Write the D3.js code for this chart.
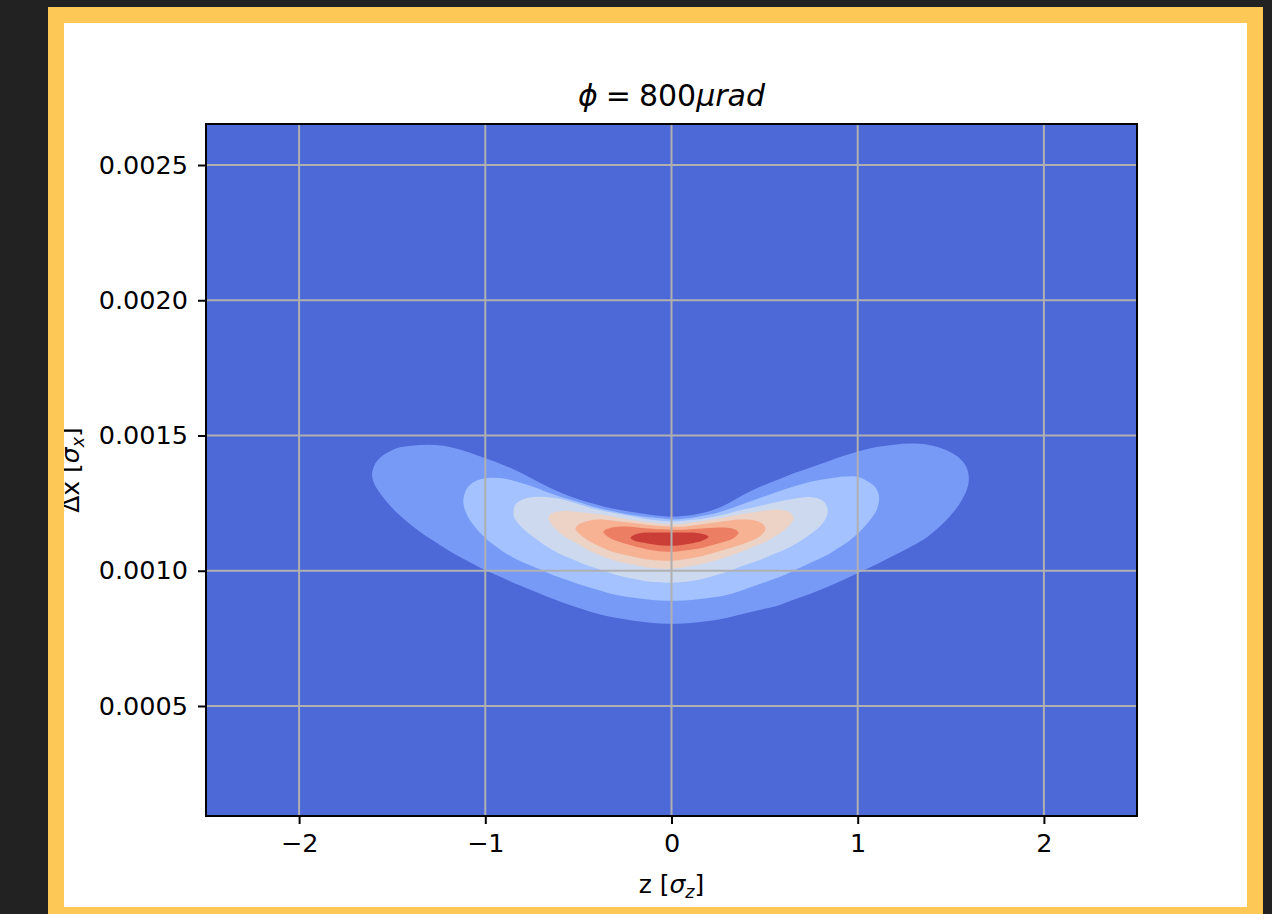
<!DOCTYPE html>
<html>
<head>
<meta charset="utf-8">
<script src="https://cdn.jsdelivr.net/npm/d3@7"></script>
<style>
  html, body { margin: 0; padding: 0; background: #222; }
  svg { display: block; }
  text { font-family: "DejaVu Sans", sans-serif; fill: #000; }
</style>
</head>
<body>
<svg id="fig" width="1272" height="914"></svg>
<script>
// ---- axis ranges and ticks ----
const zDomain = [-2.5, 2.5];
const dxDomain = [0.0000933, 0.0026516];
const zTicks = [-2, -1, 0, 1, 2];
const dxTicks = [0.0005, 0.0010, 0.0015, 0.0020, 0.0025];

// coolwarm colours of the filled bands, lowest level first
const bandColors = ["#4d68d7", "#779af7", "#a3c2ff", "#ccd9ee", "#ecd3c5", "#f7b193", "#ec7f63", "#cb3e38"];

// contour boundaries [z, Δx] of each filled level, outermost first
const level1 = [[-1.608,0.001351],[-1.597,0.001388],[-1.570,0.001414],[-1.527,0.001436],[-1.468,0.001455],[-1.392,0.001462],[-1.312,0.001466],[-1.226,0.001462],[-1.134,0.001447],[-1.038,0.001425],[-0.946,0.001403],[-0.855,0.001377],[-0.758,0.001344],[-0.667,0.001311],[-0.581,0.001285],[-0.489,0.001262],[-0.398,0.001244],[-0.312,0.001229],[-0.220,0.001218],[-0.113,0.001207],[0,0.001200],[0.118,0.001207],[0.210,0.001222],[0.301,0.001248],[0.387,0.001281],[0.478,0.001311],[0.570,0.001336],[0.656,0.001360],[0.747,0.001382],[0.839,0.001404],[0.925,0.001425],[1.016,0.001444],[1.108,0.001458],[1.194,0.001466],[1.285,0.001470],[1.376,0.001466],[1.457,0.001451],[1.522,0.001429],[1.570,0.001399],[1.591,0.001370],[1.597,0.001336],[1.586,0.001299],[1.554,0.001255],[1.511,0.001214],[1.462,0.001177],[1.376,0.001126],[1.285,0.001089],[1.194,0.001056],[1.108,0.001026],[1.016,0.000996],[0.925,0.000967],[0.839,0.000941],[0.747,0.000915],[0.656,0.000893],[0.570,0.000871],[0.478,0.000856],[0.387,0.000841],[0.301,0.000826],[0.210,0.000815],[0.118,0.000808],[0,0.000804],[-0.113,0.000808],[-0.204,0.000815],[-0.301,0.000826],[-0.398,0.000841],[-0.489,0.000860],[-0.581,0.000882],[-0.667,0.000904],[-0.758,0.000930],[-0.849,0.000956],[-0.935,0.000982],[-1.027,0.001011],[-1.118,0.001044],[-1.204,0.001078],[-1.296,0.001118],[-1.387,0.001163],[-1.457,0.001203],[-1.511,0.001240],[-1.559,0.001281],[-1.591,0.001314]];
const level2 = [[-1.118,0.001251],[-1.113,0.001281],[-1.091,0.001311],[-1.059,0.001329],[-1.016,0.001340],[-0.957,0.001344],[-0.892,0.001340],[-0.828,0.001329],[-0.758,0.001314],[-0.688,0.001296],[-0.597,0.001274],[-0.505,0.001255],[-0.419,0.001237],[-0.328,0.001222],[-0.237,0.001209],[-0.140,0.001200],[-0.059,0.001194],[0,0.001190],[0.065,0.001192],[0.140,0.001200],[0.226,0.001211],[0.301,0.001226],[0.387,0.001248],[0.478,0.001270],[0.570,0.001292],[0.656,0.001311],[0.747,0.001329],[0.839,0.001340],[0.925,0.001348],[0.989,0.001348],[1.048,0.001333],[1.091,0.001311],[1.113,0.001281],[1.113,0.001251],[1.097,0.001218],[1.059,0.001181],[1.016,0.001148],[0.962,0.001115],[0.898,0.001085],[0.839,0.001059],[0.747,0.001030],[0.656,0.001000],[0.570,0.000974],[0.478,0.000952],[0.387,0.000930],[0.301,0.000911],[0.210,0.000900],[0.118,0.000893],[0,0.000889],[-0.113,0.000893],[-0.204,0.000900],[-0.301,0.000911],[-0.398,0.000930],[-0.489,0.000948],[-0.581,0.000970],[-0.667,0.000993],[-0.758,0.001019],[-0.849,0.001048],[-0.919,0.001078],[-0.984,0.001111],[-1.038,0.001148],[-1.081,0.001185],[-1.108,0.001222]];
const level3 = [[-0.849,0.001218],[-0.839,0.001244],[-0.812,0.001259],[-0.769,0.001270],[-0.704,0.001274],[-0.634,0.001270],[-0.559,0.001259],[-0.489,0.001244],[-0.398,0.001226],[-0.312,0.001214],[-0.220,0.001202],[-0.129,0.001190],[-0.059,0.001185],[0,0.001183],[0.065,0.001185],[0.140,0.001190],[0.226,0.001200],[0.301,0.001211],[0.387,0.001226],[0.478,0.001240],[0.570,0.001255],[0.656,0.001266],[0.720,0.001272],[0.774,0.001270],[0.812,0.001259],[0.833,0.001240],[0.839,0.001218],[0.828,0.001192],[0.801,0.001166],[0.758,0.001141],[0.704,0.001115],[0.640,0.001089],[0.570,0.001067],[0.478,0.001041],[0.387,0.001019],[0.301,0.000996],[0.210,0.000978],[0.118,0.000963],[0,0.000956],[-0.113,0.000959],[-0.204,0.000970],[-0.301,0.000985],[-0.398,0.001007],[-0.489,0.001030],[-0.581,0.001056],[-0.651,0.001081],[-0.715,0.001111],[-0.774,0.001141],[-0.817,0.001170],[-0.844,0.001196]];
const level4 = [[-0.661,0.001196],[-0.645,0.001211],[-0.613,0.001218],[-0.559,0.001222],[-0.489,0.001216],[-0.419,0.001211],[-0.328,0.001202],[-0.237,0.001190],[-0.140,0.001181],[-0.059,0.001174],[0,0.001172],[0.065,0.001174],[0.140,0.001181],[0.226,0.001190],[0.301,0.001200],[0.387,0.001211],[0.478,0.001220],[0.559,0.001226],[0.613,0.001222],[0.645,0.001211],[0.656,0.001196],[0.645,0.001177],[0.613,0.001155],[0.570,0.001133],[0.516,0.001111],[0.452,0.001092],[0.387,0.001074],[0.301,0.001052],[0.210,0.001033],[0.118,0.001019],[0,0.001007],[-0.113,0.001011],[-0.204,0.001022],[-0.301,0.001037],[-0.382,0.001056],[-0.452,0.001078],[-0.516,0.001104],[-0.581,0.001129],[-0.624,0.001155],[-0.651,0.001177]];
const level5 = [[-0.516,0.001155],[-0.500,0.001170],[-0.462,0.001181],[-0.398,0.001189],[-0.312,0.001185],[-0.220,0.001177],[-0.129,0.001170],[-0.059,0.001165],[0,0.001163],[0.065,0.001163],[0.140,0.001170],[0.226,0.001177],[0.301,0.001185],[0.387,0.001189],[0.452,0.001185],[0.489,0.001174],[0.505,0.001155],[0.489,0.001137],[0.452,0.001118],[0.387,0.001100],[0.301,0.001081],[0.210,0.001063],[0.118,0.001048],[0,0.001037],[-0.113,0.001041],[-0.204,0.001052],[-0.301,0.001067],[-0.382,0.001089],[-0.446,0.001111],[-0.489,0.001133]];
const level6 = [[-0.366,0.001144],[-0.344,0.001155],[-0.290,0.001163],[-0.220,0.001163],[-0.140,0.001157],[-0.059,0.001153],[0,0.001152],[0.065,0.001152],[0.140,0.001155],[0.226,0.001159],[0.301,0.001159],[0.344,0.001152],[0.360,0.001141],[0.344,0.001126],[0.301,0.001111],[0.226,0.001096],[0.140,0.001081],[0.065,0.001074],[0,0.001070],[-0.086,0.001074],[-0.167,0.001085],[-0.247,0.001100],[-0.312,0.001115],[-0.349,0.001129]];
const level7 = [[-0.220,0.001122],[-0.199,0.001133],[-0.140,0.001141],[-0.059,0.001141],[0,0.001141],[0.075,0.001141],[0.145,0.001139],[0.183,0.001133],[0.199,0.001126],[0.177,0.001115],[0.129,0.001104],[0.065,0.001096],[0,0.001092],[-0.086,0.001096],[-0.156,0.001104],[-0.199,0.001111]];
const levels = [level1, level2, level3, level4, level5, level6, level7];

// ---- page frame ----
const W = 1272, H = 914;
const svg = d3.select("#fig");
svg.append("rect").attr("width", W).attr("height", H).attr("fill", "#222");
svg.append("rect").attr("x", 48).attr("y", 7).attr("width", 1215).attr("height", 930).attr("fill", "#fec857");
svg.append("rect").attr("x", 64).attr("y", 23).attr("width", 1183).attr("height", 884).attr("fill", "#fff");

const defs = svg.append("defs");
defs.append("clipPath").attr("id", "page")
  .append("rect").attr("x", 64).attr("y", 23).attr("width", 1183).attr("height", 884);

const plot = { left: 206, right: 1137, top: 124, bottom: 816 };
defs.append("clipPath").attr("id", "axesClip")
  .append("rect").attr("x", plot.left).attr("y", plot.top)
  .attr("width", plot.right - plot.left).attr("height", plot.bottom - plot.top);

const fig = svg.append("g").attr("clip-path", "url(#page)");

const x = d3.scaleLinear().domain(zDomain).range([plot.left, plot.right]);
const y = d3.scaleLinear().domain(dxDomain).range([plot.bottom, plot.top]);

// ---- filled contours ----
const area = fig.append("g").attr("clip-path", "url(#axesClip)");
area.append("rect")
  .attr("x", x(zDomain[0])).attr("y", y(dxDomain[1]))
  .attr("width", x(zDomain[1]) - x(zDomain[0]))
  .attr("height", y(dxDomain[0]) - y(dxDomain[1]))
  .attr("fill", bandColors[0]);

const contourLine = d3.line()
  .x(d => x(d[0]))
  .y(d => y(d[1]))
  .curve(d3.curveCatmullRomClosed.alpha(0.5));

area.selectAll("path.level")
  .data(levels)
  .join("path")
  .attr("class", "level")
  .attr("d", contourLine)
  .attr("fill", (d, i) => bandColors[i + 1]);

// ---- grid ----
const grid = area.append("g").attr("stroke", "#b0b0b0").attr("stroke-width", 2);
grid.selectAll("line.gx").data(zTicks).join("line")
  .attr("x1", d => x(d)).attr("x2", d => x(d))
  .attr("y1", plot.top).attr("y2", plot.bottom);
grid.selectAll("line.gy").data(dxTicks).join("line")
  .attr("x1", plot.left).attr("x2", plot.right)
  .attr("y1", d => y(d)).attr("y2", d => y(d));

// ---- axes ----
const fmtZ = d => (d < 0 ? "\u2212" + Math.abs(d) : String(d));
const xAxis = d3.axisBottom(x).tickValues(zTicks).tickFormat(fmtZ).tickSize(8).tickPadding(10);
const yAxis = d3.axisLeft(y).tickValues(dxTicks).tickFormat(d3.format(".4f")).tickSize(8).tickPadding(10);

const gx = fig.append("g").attr("transform", `translate(0,${plot.bottom})`).call(xAxis);
const gy = fig.append("g").attr("transform", `translate(${plot.left},0)`).call(yAxis);
[gx, gy].forEach(g => {
  g.select(".domain").remove();
  g.selectAll(".tick line").attr("stroke", "#000").attr("stroke-width", 2);
  g.selectAll(".tick text").attr("font-family", "DejaVu Sans").attr("font-size", 25.5).attr("fill", "#000");
});

fig.append("rect")
  .attr("x", plot.left).attr("y", plot.top)
  .attr("width", plot.right - plot.left).attr("height", plot.bottom - plot.top)
  .attr("fill", "none").attr("stroke", "#000").attr("stroke-width", 2);

// ---- title and axis labels ----
const title = fig.append("text")
  .attr("x", (plot.left + plot.right) / 2).attr("y", 106)
  .attr("text-anchor", "middle").attr("font-size", 30);
title.append("tspan").attr("font-style", "italic").text("\u03d5");
title.append("tspan").attr("dx", 8).text("=");
title.append("tspan").attr("dx", 8).text("800");
title.append("tspan").attr("font-style", "italic").text("\u03bcrad");

const xl = fig.append("text")
  .attr("x", (plot.left + plot.right) / 2).attr("y", 893)
  .attr("text-anchor", "middle").attr("font-size", 25);
xl.append("tspan").text("z [");
xl.append("tspan").attr("font-style", "italic").text("\u03c3");
xl.append("tspan").attr("font-style", "italic").attr("font-size", 17.5).attr("dy", 5).text("z");
xl.append("tspan").attr("dy", -5).text("]");

const yl = fig.append("text")
  .attr("transform", `translate(79,${(plot.top + plot.bottom) / 2}) rotate(-90)`)
  .attr("text-anchor", "middle").attr("font-size", 25);
yl.append("tspan").text("\u0394x [");
yl.append("tspan").attr("font-style", "italic").text("\u03c3");
yl.append("tspan").attr("font-style", "italic").attr("font-size", 17.5).attr("dy", 5).text("x");
yl.append("tspan").attr("dy", -5).text("]");
</script>
</body>
</html>
